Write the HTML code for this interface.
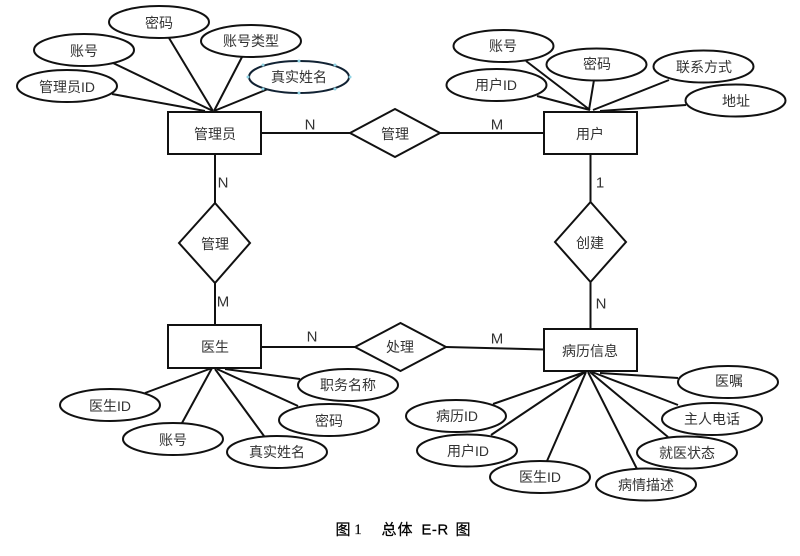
<!DOCTYPE html>
<html><head><meta charset="utf-8"><style>
html,body{margin:0;padding:0;background:#fff}
svg{display:block}
text{font-family:"Liberation Sans","Noto Sans CJK SC",sans-serif;font-size:14px;fill:#333;text-anchor:middle;dominant-baseline:central}
.s{fill:none;stroke:#111;stroke-width:2}
.f{fill:#fff;stroke:#111;stroke-width:2}
.c{fill:#000;font-size:15px;stroke:#000;stroke-width:.25px}
</style></head><body>
<svg width="800" height="556" viewBox="0 0 800 556" style="filter:blur(.35px)">
<g class="s">
<path d="M113 63L213 111M169 38L213 111M242 57L214 111M268 89L214 111M112 94L205 111"/>
<path d="M526 61L590 110M594 80L589 110M669 80L593 110M686 105L600 111M537 96L590 110"/>
<path d="M145 393L212 368M182 423L212 368M264 436L215 369M298 406L217 369M300 379L225 369"/>
<path d="M493 404L585 372M491 435L585 372M547 461L586 372M637 469L588 372M668 437L590 372M678 405L592 372M678 378L600 373"/>
<path d="M262 133H350M440 133H544M215 154V203M215 283V325M590.500 154V202M590.500 282V329M262 347H355M446 347L544 349.500"/>
</g>
<g class="f">
<ellipse cx="159" cy="22" rx="50" ry="16"/><ellipse cx="84" cy="50" rx="50" ry="16"/><ellipse cx="251" cy="41" rx="50" ry="16"/><ellipse cx="299" cy="77" rx="50" ry="16" stroke="#123"/><ellipse cx="67" cy="86" rx="50" ry="16"/>
<ellipse cx="503.500" cy="46" rx="50" ry="16"/><ellipse cx="596.500" cy="64.500" rx="50" ry="16"/><ellipse cx="703.500" cy="66.500" rx="50" ry="16"/><ellipse cx="735.500" cy="100.500" rx="50" ry="16"/><ellipse cx="496.500" cy="85" rx="50" ry="16"/>
<ellipse cx="348" cy="385" rx="50" ry="16"/><ellipse cx="329" cy="420" rx="50" ry="16"/><ellipse cx="277" cy="452" rx="50" ry="16"/><ellipse cx="173" cy="439" rx="50" ry="16"/><ellipse cx="110" cy="405" rx="50" ry="16"/>
<ellipse cx="728" cy="382" rx="50" ry="16"/><ellipse cx="712" cy="419" rx="50" ry="16"/><ellipse cx="687" cy="452.500" rx="50" ry="16"/><ellipse cx="646" cy="484.500" rx="50" ry="16"/><ellipse cx="540" cy="477" rx="50" ry="16"/><ellipse cx="467" cy="450.500" rx="50" ry="16"/><ellipse cx="456" cy="416" rx="50" ry="16"/>
<rect x="168" y="112" width="93" height="42"/><rect x="544" y="112" width="93" height="42"/><rect x="168" y="325" width="93" height="43"/><rect x="544" y="329" width="93" height="42"/>
<path d="M350 133L395 109L440 133L395 157Z"/><path d="M179 243L215 203L250 243L215 283Z"/><path d="M555 242L590.500 202L626 242L590.500 282Z"/><path d="M355 347L400.500 323L446 347L400.500 371Z"/>
</g>
<g fill="#8fd3e4">
<circle cx="248" cy="77" r="1.500"/><circle cx="350" cy="77" r="1.500"/><circle cx="299" cy="61" r="1.500"/><circle cx="299" cy="93" r="1.500"/><circle cx="263" cy="65" r="1.500"/><circle cx="335" cy="65" r="1.500"/><circle cx="263" cy="89" r="1.500"/><circle cx="335" cy="89" r="1.500"/>
</g>
<text x="159" y="23">密码</text><text x="84" y="51">账号</text><text x="251" y="41">账号类型</text><text x="299" y="77">真实姓名</text><text x="67" y="87">管理员ID</text>
<text x="503" y="46">账号</text><text x="597" y="64">密码</text><text x="704" y="67">联系方式</text><text x="736" y="101">地址</text><text x="496" y="85">用户ID</text>
<text x="215" y="134">管理员</text><text x="590" y="134">用户</text><text x="215" y="347">医生</text><text x="590" y="351">病历信息</text>
<text x="395" y="134">管理</text><text x="215" y="244">管理</text><text x="590" y="243">创建</text><text x="400" y="347">处理</text>
<text x="348" y="385">职务名称</text><text x="329" y="421">密码</text><text x="277" y="452">真实姓名</text><text x="173" y="440">账号</text><text x="110" y="406">医生ID</text>
<text x="729" y="381">医嘱</text><text x="712" y="419">主人电话</text><text x="687" y="453">就医状态</text><text x="646" y="485">病情描述</text><text x="540" y="477">医生ID</text><text x="468" y="451">用户ID</text><text x="457" y="416">病历ID</text>
<text x="310" y="125" style="font-size:15px">N</text><text x="497" y="125" style="font-size:15px">M</text><text x="223" y="183" style="font-size:15px">N</text><text x="600" y="183" style="font-size:15px">1</text><text x="223" y="302" style="font-size:15px">M</text><text x="601" y="304" style="font-size:15px">N</text><text x="312" y="337" style="font-size:15px">N</text><text x="497" y="339" style="font-size:15px">M</text>
<text class="c" x="343" y="530">图</text><text class="c" x="358" y="530" style="font-family:'Liberation Serif',serif">1</text>
<text class="c" x="389" y="530">总</text><text class="c" x="405" y="530">体</text>
<text class="c" x="435" y="530" style="letter-spacing:.5px">E-R</text><text class="c" x="463" y="530">图</text>
</svg>
</body></html>
